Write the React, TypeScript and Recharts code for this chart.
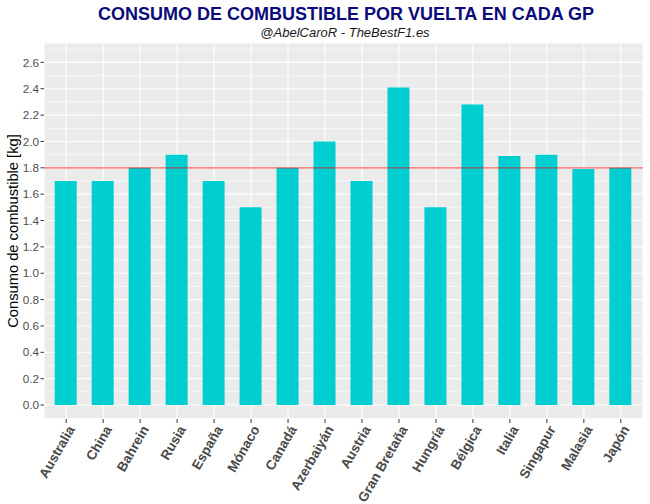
import React from "react";
import { BarChart, Bar, XAxis, YAxis, CartesianGrid, ReferenceLine } from "recharts";

const categories = [
  "Australia", "China", "Bahrein", "Rusia", "España", "Mónaco", "Canadá", "Azerbaiyán",
  "Austria", "Gran Bretaña", "Hungría", "Bélgica", "Italia", "Singapur", "Malasia", "Japón",
];
const consumo = [1.7, 1.7, 1.8, 1.9, 1.7, 1.5, 1.8, 2.0, 1.7, 2.41, 1.5, 2.28, 1.89, 1.9, 1.79, 1.8];
const yTicks = [0, 0.2, 0.4, 0.6, 0.8, 1.0, 1.2, 1.4, 1.6, 1.8, 2.0, 2.2, 2.4, 2.6];
const yMinor = [-0.1, 0.1, 0.3, 0.5, 0.7, 0.9, 1.1, 1.3, 1.5, 1.7, 1.9, 2.1, 2.3, 2.5, 2.7];
const mediaConsumo = 1.8;

const data = categories.map((gp, i) => ({ gp, consumo: consumo[i] }));

const FONT = "'Liberation Sans', Arial, Helvetica, sans-serif";

const XTick = (props: any) => {
  const { x, y, payload } = props;
  return (
    <g transform={`translate(${x},${y})`}>
      <text
        textAnchor="end"
        transform="rotate(-60)"
        dy={10}
        dx={1}
        fontFamily={FONT}
        fontSize={13.5}
        fontWeight="bold"
        fill="#4A4A4A"
      >
        {payload.value}
      </text>
    </g>
  );
};

export default function App() {
  return (
    <div style={{ position: "absolute", left: 0, top: 0, width: 650, height: 504, background: "#fff" }}>
      <BarChart
        width={650}
        height={504}
        data={data}
        margin={{ top: 43, right: 7, left: 0, bottom: 5 }}
      >
        <CartesianGrid
          horizontalValues={yMinor}
          vertical={false}
          fill="#EBEBEB"
          stroke="#FFFFFF"
          strokeWidth={0.6}
          strokeDasharray=""
        />
        <CartesianGrid stroke="#FFFFFF" strokeWidth={1.1} strokeDasharray="" />
        <XAxis
          dataKey="gp"
          type="category"
          interval={0}
          height={80}
          axisLine={false}
          tickLine={{ stroke: "#333333", strokeWidth: 1 }}
          tickSize={4}
          tickMargin={2}
          padding={{ left: 3.7, right: 3.7 }}
          tick={<XTick />}
        />
        <YAxis
          type="number"
          width={44}
          domain={[-0.106, 2.747]}
          allowDataOverflow
          ticks={yTicks}
          interval={0}
          axisLine={false}
          tickLine={{ stroke: "#333333", strokeWidth: 1 }}
          tickSize={3.5}
          tickMargin={1.5}
          tickFormatter={(v: number) => v.toFixed(1)}
          tick={{ fill: "#4D4D4D", fontSize: 11.7, fontFamily: FONT }}
        />
        <Bar dataKey="consumo" fill="#00CED1" barSize={22} isAnimationActive={false} />
        <ReferenceLine y={mediaConsumo} stroke="#FF0000" strokeOpacity={0.6} strokeWidth={1.3} />
      </BarChart>
      <svg
        width={650}
        height={504}
        style={{ position: "absolute", left: 0, top: 0, pointerEvents: "none" }}
      >
        <text x={346} y={20} textAnchor="middle" fontFamily={FONT} fontSize={18} fontWeight="bold" fill="#0B0B7C">
          CONSUMO DE COMBUSTIBLE POR VUELTA EN CADA GP
        </text>
        <text x={345} y={37} textAnchor="middle" fontFamily={FONT} fontSize={13} fontStyle="italic" fill="#1A1A1A">
          @AbelCaroR - TheBestF1.es
        </text>
        <text
          x={18}
          y={231}
          transform="rotate(-90, 18, 231)"
          textAnchor="middle"
          fontFamily={FONT}
          fontSize={14.7}
          fill="#000000"
        >
          Consumo de combustible [kg]
        </text>
      </svg>
    </div>
  );
}
